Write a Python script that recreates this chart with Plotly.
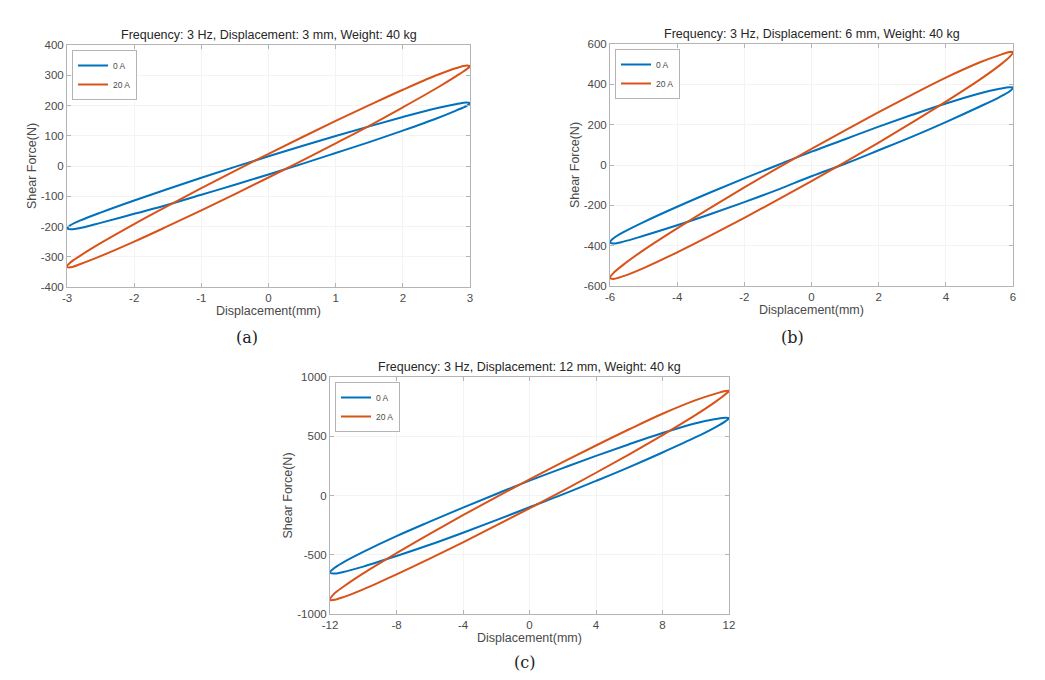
import plotly.graph_objects as go

# ---------------- data ----------------
# Panel (a): displacement amplitude 3 mm
disp_a = [-3, -2.95, -2.8, -2.5, -2, -1.5, -1, -0.5, 0, 0.5, 1, 1.5, 2, 2.5, 2.8, 2.95, 3]
a_0A_upper = [-206, -196, -180, -154, -114, -76, -39, -3, 32, 66, 99, 131, 162, 191, 205, 210, 207]
a_0A_lower = [-206, -209, -205, -188, -158, -128, -95, -62, -28, 7, 43, 79, 117, 157, 184, 199, 207]
a_20A_upper = [-333, -319, -296, -255, -192, -132, -73, -16, 40, 95, 149, 201, 252, 300, 324, 332, 330]
a_20A_lower = [-333, -335, -324, -298, -250, -199, -147, -93, -38, 18, 75, 133, 194, 257, 298, 320, 330]

# Panel (b): displacement amplitude 6 mm
disp_b = [-6, -5.9, -5.6, -5, -4, -3, -2, -1, 0, 1, 2, 3, 4, 5, 5.6, 5.9, 6]
b_0A_upper = [-383, -364, -333, -283, -207, -135, -66, 0, 66, 128, 190, 249, 305, 355, 378, 386, 384]
b_0A_lower = [-383, -389, -380, -351, -299, -243, -184, -122, -56, 6, 73, 141, 213, 289, 337, 366, 384]
b_20A_upper = [-560, -536, -494, -422, -314, -211, -111, -14, 80, 172, 262, 349, 433, 508, 545, 560, 560]
b_20A_lower = [-560, -565, -551, -511, -433, -349, -262, -172, -80, 14, 111, 211, 314, 422, 494, 536, 560]

# Panel (c): displacement amplitude 12 mm
disp_c = [-12, -11.8, -11.2, -10, -8, -6, -4, -2, 0, 2, 4, 6, 8, 10, 11.2, 11.8, 12]
c_0A_upper = [-650, -618, -564, -476, -343, -221, -102, 13, 125, 231, 334, 433, 527, 610, 645, 657, 653]
c_0A_lower = [-650, -659, -645, -600, -511, -416, -314, -208, -99, 9, 123, 240, 363, 492, 578, 628, 653]
c_20A_upper = [-881, -836, -770, -657, -487, -324, -166, -13, 136, 281, 422, 559, 690, 805, 860, 882, 884]
c_20A_lower = [-881, -882, -858, -792, -666, -533, -395, -253, -108, 40, 192, 348, 510, 680, 792, 856, 884]

series_names = ["0 A", "20 A"]
titles = ["Frequency: 3 Hz, Displacement: 3 mm, Weight: 40 kg",
          "Frequency: 3 Hz, Displacement: 6 mm, Weight: 40 kg",
          "Frequency: 3 Hz, Displacement: 12 mm, Weight: 40 kg"]
panel_labels = ["(a)", "(b)", "(c)"]

x_ticks_a = [-3, -2, -1, 0, 1, 2, 3]
y_ticks_a = [-400, -300, -200, -100, 0, 100, 200, 300, 400]
x_ticks_b = [-6, -4, -2, 0, 2, 4, 6]
y_ticks_b = [-600, -400, -200, 0, 200, 400, 600]
x_ticks_c = [-12, -8, -4, 0, 4, 8, 12]
y_ticks_c = [-1000, -500, 0, 500, 1000]

# ---------------- styling ----------------
W, H = 1045, 680
BLUE = "#0072BD"
ORANGE = "#D95319"
FONT = "Liberation Sans, Arial, sans-serif"
AXC = "#b4b4b4"
TXT = "#4a4a4a"

# plot-area boxes in pixels: (left, top, right, bottom)
boxes = [(67, 45, 470, 287), (610, 44, 1013, 286), (330, 377, 729, 614)]
# centre of the "(a)/(b)/(c)" captions in pixels
label_pos = [(247, 337), (792, 337), (524, 662)]


def loop(x, up, lo):
    xs = list(x) + list(x[-2:0:-1]) + [x[0]]
    ys = list(up) + list(lo[-2:0:-1]) + [up[0]]
    return xs, ys


panels = [
    (disp_a, [(a_0A_upper, a_0A_lower), (a_20A_upper, a_20A_lower)], x_ticks_a, y_ticks_a),
    (disp_b, [(b_0A_upper, b_0A_lower), (b_20A_upper, b_20A_lower)], x_ticks_b, y_ticks_b),
    (disp_c, [(c_0A_upper, c_0A_lower), (c_20A_upper, c_20A_lower)], x_ticks_c, y_ticks_c),
]

fig = go.Figure()
annotations = []
layout_axes = {}
for i, (disp, curves, xt, yt) in enumerate(panels):
    n = "" if i == 0 else str(i + 1)
    leg = "legend" if i == 0 else f"legend{i + 1}"
    for (up, lo), name, col in zip(curves, series_names, [BLUE, ORANGE]):
        xs, ys = loop(disp, up, lo)
        fig.add_trace(go.Scatter(
            x=xs, y=ys, mode="lines", name=name,
            line=dict(color=col, width=2, shape="spline", smoothing=1.0),
            xaxis="x" + n, yaxis="y" + n, legend=leg, showlegend=True,
        ))
    l, t, r, b = boxes[i]
    xd = [l / W, r / W]
    yd = [1 - b / H, 1 - t / H]
    common = dict(
        showline=True, linecolor=AXC, linewidth=1, mirror="ticks",
        ticks="inside", ticklen=4, tickcolor=AXC,
        showgrid=True, gridcolor="#f3f3f3", gridwidth=1, zeroline=False,
        tickfont=dict(family=FONT, size=11.5, color=TXT), automargin=False,
    )
    layout_axes["xaxis" + n] = dict(
        domain=xd, range=[xt[0], xt[-1]], tickvals=xt,
        ticktext=[str(v) for v in xt], anchor="y" + n,
        title=dict(text="Displacement(mm)", standoff=2,
                   font=dict(family=FONT, size=12.5, color=TXT)),
        **common)
    layout_axes["yaxis" + n] = dict(
        domain=yd, range=[yt[0], yt[-1]], tickvals=yt,
        ticktext=[str(v) for v in yt], anchor="x" + n,
        title=dict(text="Shear Force(N)", standoff=1,
                   font=dict(family=FONT, size=12.5, color=TXT)),
        **common)
    layout_axes[leg] = dict(
        x=xd[0] + 5 / W, y=yd[1] - 5 / H, xanchor="left", yanchor="top",
        bgcolor="white", bordercolor=AXC, borderwidth=1,
        font=dict(family=FONT, size=8.5, color=TXT),
        tracegroupgap=0, itemwidth=30,
    )
    annotations.append(dict(
        text=titles[i], x=(xd[0] + xd[1]) / 2, y=yd[1], xref="paper", yref="paper",
        xanchor="center", yanchor="bottom", yshift=1, showarrow=False,
        font=dict(family=FONT, size=12.5, color="#262626")))
    lx, ly = label_pos[i]
    annotations.append(dict(
        text=panel_labels[i], x=lx / W, y=1 - ly / H,
        xref="paper", yref="paper", xanchor="center", yanchor="middle",
        showarrow=False,
        font=dict(family="DejaVu Serif", size=16, color="#222222")))

fig.update_layout(
    width=W, height=H, margin=dict(l=0, r=0, t=0, b=0, autoexpand=False),
    paper_bgcolor="white", plot_bgcolor="white",
    annotations=annotations, **layout_axes,
)
fig.write_html("out.html", config={"displayModeBar": False},
               post_script="document.body.style.margin='0';")
